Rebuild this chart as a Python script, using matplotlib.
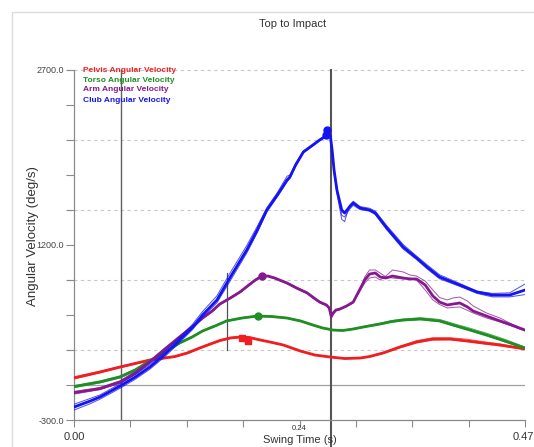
import matplotlib
matplotlib.use("Agg")
import matplotlib.pyplot as plt
from matplotlib.patches import Rectangle

# ---------------- data ----------------
pelvis_t = [0, 0.027, 0.048, 0.079, 0.105, 0.118, 0.131, 0.142, 0.152, 0.163, 0.173, 0.183,
            0.194, 0.204, 0.218, 0.236, 0.251, 0.267, 0.282, 0.298, 0.308, 0.322, 0.340,
            0.357, 0.374, 0.392, 0.410, 0.426, 0.444, 0.470]
pelvis_v = [60, 111, 154, 214, 244, 274, 317, 351, 381, 403, 411, 407,
            386, 369, 343, 291, 257, 240, 227, 231, 244, 274, 326,
            369, 394, 394, 377, 360, 343, 309]
pelvis_trial_a = [70, 118, 160, 218, 247, 277, 320, 355, 386, 408, 416, 410,
                  389, 371, 345, 294, 259, 241, 228, 233, 247, 279, 333,
                  380, 405, 405, 392, 372, 352, 309]
pelvis_trial_b = [52, 104, 148, 208, 238, 270, 312, 346, 376, 398, 406, 403,
                  382, 366, 340, 288, 254, 237, 225, 229, 241, 270, 320,
                  360, 385, 388, 372, 355, 335, 305]

torso_t = [0, 0.027, 0.048, 0.064, 0.079, 0.095, 0.110, 0.123, 0.134, 0.147, 0.159, 0.175,
           0.191, 0.206, 0.222, 0.236, 0.249, 0.259, 0.270, 0.280, 0.291, 0.304, 0.319,
           0.331, 0.343, 0.361, 0.381, 0.395, 0.413, 0.430, 0.449, 0.470]
torso_v = [-14, 26, 69, 129, 206, 283, 360, 411, 463, 506, 549, 574,
           591, 587, 574, 549, 514, 489, 471, 467, 480, 501, 523,
           544, 557, 566, 549, 514, 471, 429, 377, 317]
torso_trial_a = [-5, 34, 78, 138, 214, 290, 366, 416, 467, 510, 553, 578,
                 595, 591, 578, 553, 518, 492, 474, 470, 484, 506, 530,
                 552, 566, 577, 562, 528, 486, 444, 392, 325]
torso_trial_b = [-22, 18, 60, 120, 198, 276, 354, 406, 459, 502, 545, 570,
                 587, 583, 570, 545, 510, 486, 468, 464, 477, 497, 518,
                 538, 551, 560, 543, 508, 464, 420, 370, 312]

arm_t = [0, 0.027, 0.048, 0.064, 0.079, 0.095, 0.110, 0.123, 0.134, 0.144, 0.152, 0.163,
         0.173, 0.181, 0.189, 0.196, 0.202, 0.209, 0.222, 0.232, 0.243, 0.250, 0.256,
         0.263, 0.266, 0.268, 0.270, 0.273, 0.277, 0.284, 0.291, 0.297, 0.303, 0.308,
         0.314, 0.319, 0.325, 0.332, 0.343, 0.350, 0.357, 0.366, 0.374, 0.381, 0.389,
         0.395, 0.402, 0.410, 0.416, 0.430, 0.444, 0.456, 0.470]
arm_v = [-66, -31, 26, 103, 197, 309, 411, 497, 574, 634, 694, 746,
         797, 849, 900, 934, 934, 917, 874, 831, 789, 746, 711,
         686, 660, 591, 617, 643, 651, 677, 711, 806, 900, 951,
         960, 926, 917, 934, 917, 909, 909, 857, 763, 711, 686,
         694, 703, 669, 634, 591, 549, 514, 471]
arm_trial_a = [-55, -22, 36, 115, 210, 320, 420, 505, 580, 640, 700, 752,
               803, 855, 905, 940, 938, 922, 880, 838, 795, 752, 716,
               690, 650, 565, 600, 635, 645, 672, 705, 800, 926, 986,
               986, 960, 926, 917, 909, 917, 900, 814, 729, 690, 660,
               665, 669, 640, 617, 574, 540, 506, 463]
arm_trial_b = [-78, -40, 15, 92, 186, 298, 402, 490, 568, 628, 688, 740,
               792, 843, 894, 928, 929, 912, 868, 826, 783, 740, 706,
               680, 655, 575, 610, 638, 648, 675, 708, 790, 874, 917,
               926, 900, 934, 986, 969, 943, 934, 891, 814, 750, 729,
               746, 754, 720, 677, 617, 574, 523, 471]

club_t = [0, 0.017, 0.027, 0.048, 0.064, 0.079, 0.095, 0.110, 0.123, 0.134, 0.149, 0.163,
          0.180, 0.191, 0.201, 0.212, 0.222, 0.225, 0.231, 0.239, 0.249, 0.256, 0.264,
          0.267, 0.269, 0.271, 0.274, 0.279, 0.282, 0.287, 0.291, 0.298, 0.308, 0.314,
          0.326, 0.343, 0.357, 0.368, 0.381, 0.402, 0.420, 0.436, 0.454, 0.470]
club_v = [-189, -137, -103, -9, 69, 154, 266, 386, 489, 600, 729, 926,
          1157, 1329, 1500, 1629, 1757, 1783, 1886, 1997, 2057, 2100, 2143,
          2143, 2014, 1843, 1671, 1500, 1474, 1526, 1560, 1517, 1500, 1474,
          1346, 1183, 1089, 1011, 926, 857, 797, 771, 771, 814]
club_trial_a = [-165, -115, -85, 10, 90, 175, 290, 410, 515, 630, 765, 965,
                1195, 1360, 1520, 1650, 1790, 1800, 1900, 2005, 2065, 2105, 2150,
                2150, 2020, 1830, 1640, 1420, 1400, 1540, 1575, 1530, 1515, 1490,
                1365, 1205, 1105, 1030, 945, 870, 805, 785, 790, 865]
club_trial_b = [-215, -160, -122, -28, 50, 135, 245, 365, 470, 580, 705, 895,
                1130, 1305, 1485, 1615, 1740, 1770, 1875, 1990, 2050, 2095, 2135,
                2135, 2005, 1850, 1690, 1455, 1440, 1505, 1540, 1505, 1490, 1460,
                1330, 1165, 1075, 995, 910, 845, 785, 755, 755, 775]

series_names = ["Pelvis Angular Velocity", "Torso Angular Velocity",
                "Arm Angular Velocity", "Club Angular Velocity"]
colors = ["#f01e1e", "#1f8f24", "#86198f", "#1414f0"]

# peak markers
pelvis_peak_t = [0.175, 0.181]
pelvis_peak_v = [403, 377]
torso_peak_t = [0.192]
torso_peak_v = [591]
arm_peak_t = [0.196]
arm_peak_v = [934]
club_peak_t = [0.264, 0.263]
club_peak_v = [2186, 2143]

event_top = 0.0495
event_impact = 0.268
event_mid = 0.159
event_mid_range = [300, 960]

x_ticks = [i * 0.47 / 8 for i in range(9)]
y_ticks = list(range(-300, 2701, 300))
y_grid = [2700, 2100, 1500, 900, 300]

# ---------------- figure ----------------
W, H = 534, 447
fig = plt.figure(figsize=(W / 100, H / 100), dpi=100)
fig.patch.set_facecolor("white")
plt.rcParams['font.family'] = ['Liberation Sans', 'DejaVu Sans']

# outer frame (cropped)
fig.patches.append(Rectangle((12 / W, -0.1), 1.2, 1 - 12 / H + 0.1, transform=fig.transFigure,
                             fill=False, edgecolor="#dcdcdc", linewidth=1))

ax = fig.add_axes([74 / W, 1 - 420 / H, (525 - 74) / W, (420 - 70) / H])
ax.set_xlim(0, 0.47)
ax.set_ylim(-300, 2700)

for s in ["top", "right"]:
    ax.spines[s].set_visible(False)
for s in ["left", "bottom"]:
    ax.spines[s].set_color("#8a8a8a")
    ax.spines[s].set_linewidth(0.9)

# grid lines
for g in y_grid:
    ax.axhline(g, xmin=-0.016, xmax=1, color="#c8c8c8", lw=0.8, ls=(0, (3, 3)),
               clip_on=False, zorder=1)
ax.axhline(0, color="#a0a0a0", lw=0.9, zorder=1)

# ticks
ax.set_yticks(y_ticks)
ax.set_yticklabels(["-300.0" if v == -300 else "1200.0" if v == 1200 else "2700.0" if v == 2700 else ""
                    for v in y_ticks])
ax.tick_params(axis="y", length=6, width=0.8, color="#8a8a8a", labelsize=6.5,
               labelcolor="#444444", pad=1)
ax.set_xticks(x_ticks)
ax.set_xticklabels([""] * len(x_ticks))
ax.tick_params(axis="x", length=5, width=0.8, color="#8a8a8a")

tr = ax.get_xaxis_transform()
ax.text(0.0, -0.034, "0.00", transform=tr, ha="center", va="top", fontsize=8, color="#333333")
ax.text(0.468, -0.034, "0.47", transform=tr, ha="center", va="top", fontsize=8, color="#333333")
ax.text(0.235, -0.014, "0.24", transform=tr, ha="center", va="top", fontsize=5.5, color="#333333")
ax.text(0.235, -0.044, "Swing Time (s)", transform=tr, ha="center", va="top", fontsize=8,
        color="#333333")

fig.text(293 / W, 1 - 24 / H, "Top to Impact", ha="center", va="center", fontsize=8,
         color="#333333")
fig.text(33 / W, 1 - 236 / H, "Angular Velocity (deg/s)", ha="center", va="center",
         rotation=90, fontsize=9.5, color="#333333")

# event lines
ax.plot([event_top, event_top], [2700, -300], color="#606060", lw=1.0, zorder=2)
ax.plot([event_impact, event_impact], [2700, -540], color="#555555", lw=1.5, zorder=2,
        clip_on=False)
ax.plot([event_mid, event_mid], event_mid_range, color="#505050", lw=0.9, zorder=2)

# series
data = [(pelvis_t, pelvis_v, [pelvis_trial_a, pelvis_trial_b]),
        (torso_t, torso_v, [torso_trial_a, torso_trial_b]),
        (arm_t, arm_v, [arm_trial_a, arm_trial_b]),
        (club_t, club_v, [club_trial_a, club_trial_b])]
for (t, v, trials), c in zip(data, colors):
    for tv in trials:
        ax.plot(t, tv, color=c, lw=0.7, alpha=0.75, zorder=3)
    ax.plot(t, v, color=c, lw=2.0, zorder=3, solid_capstyle="round", solid_joinstyle="round")

ax.plot(pelvis_peak_t, pelvis_peak_v, "s", color=colors[0], ms=4, zorder=4)
ax.plot(torso_peak_t, torso_peak_v, "o", color=colors[1], ms=5, zorder=4)
ax.plot(arm_peak_t, arm_peak_v, "o", color=colors[2], ms=5, zorder=4)
ax.plot(club_peak_t, club_peak_v, "o", color=colors[3], ms=5, zorder=4)

# legend-like labels
for i, (name, c) in enumerate(zip(series_names, colors)):
    fig.text(83 / W, 1 - (70 + 10 * i) / H, name, ha="left", va="center", fontsize=6,
             color=c, family=["Liberation Sans Narrow", "Liberation Sans"], weight="bold")

fig.savefig("out.png", dpi=100, facecolor="white")
